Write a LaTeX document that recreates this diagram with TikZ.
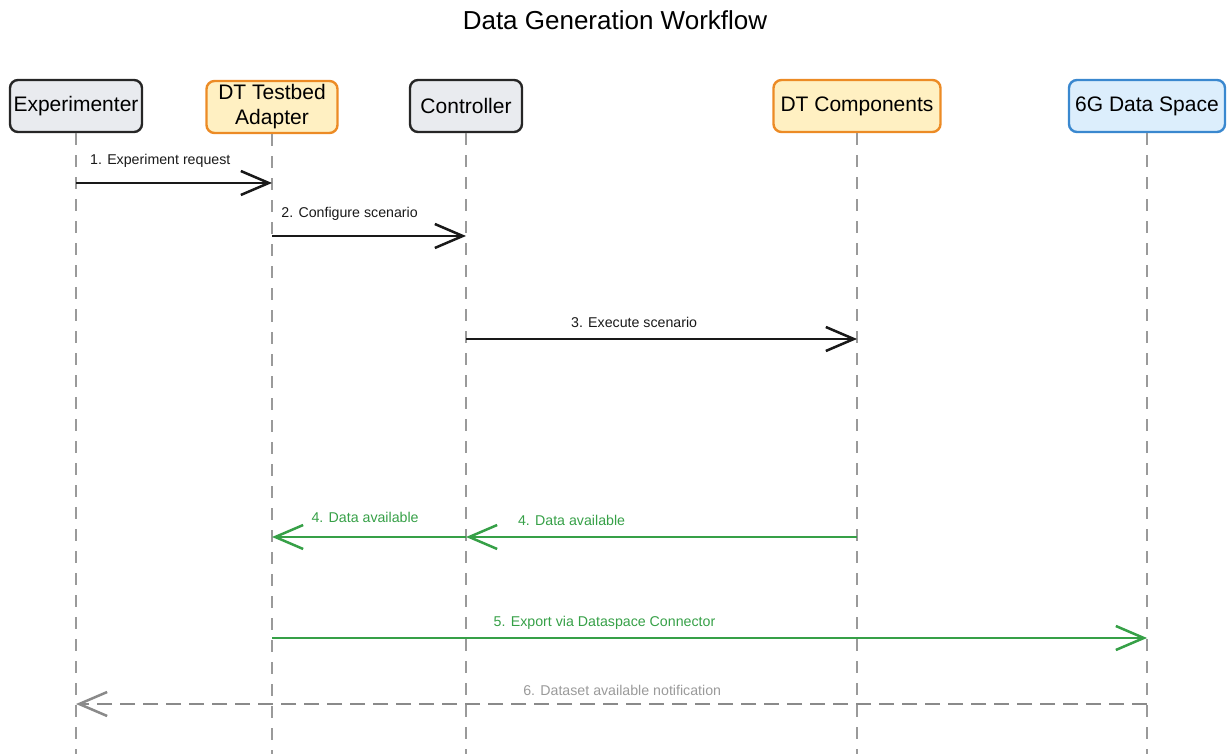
\documentclass[tikz,border=0pt]{standalone}
\usepackage{fontspec}
\setmainfont{Liberation Sans}
\usetikzlibrary{arrows.meta}
\definecolor{actorgray}{HTML}{E9EBEF}
\definecolor{dtfill}{HTML}{FFF0C2}
\definecolor{dtdraw}{HTML}{EC8B25}
\definecolor{dsfill}{HTML}{DCEEFC}
\definecolor{dsdraw}{HTML}{3A88CF}
\definecolor{msggreen}{HTML}{36A047}
\definecolor{lifegray}{HTML}{9A9A9A}
\definecolor{notegray}{HTML}{8A8A8A}

\begin{document}
\begin{tikzpicture}[x=0.5pt,y=-0.5pt]
        \tikzset{
    actor/.style={draw=black!85, fill=actorgray, line width=1.2pt, rounded corners=4pt,
        minimum height=26pt, inner sep=1pt, align=center,
        font=\fontsize{10.5}{12.5}\selectfont},
    dtactor/.style={actor, draw=dtdraw, fill=dtfill},
    dsactor/.style={actor, draw=dsdraw, fill=dsfill},
    lifeline/.style={draw=lifegray, line width=0.7pt, dash pattern=on 6pt off 5pt},
    msg/.style={line width=1.25pt, -{Straight Barb[length=14pt,width=12pt]}},
    msglabel/.style={inner sep=0pt, font=\fontsize{7.1}{8}\selectfont},
        }
        \useasboundingbox (0,0) rectangle (1228,754);

        \node[font=\fontsize{13}{15}\selectfont] (title) at (615,20) {Data Generation Workflow};

        % The participants along the top.
        \node[actor, minimum width=66pt]    (exp)  at (76,106)   {Experimenter};
        \node[dtactor, minimum width=65.5pt] (ada) at (272,107)  {DT Testbed\\Adapter};
        \node[actor, minimum width=56pt]    (ctl)  at (466,106)  {Controller};
        \node[dtactor, minimum width=83.5pt] (dtc) at (857,106)  {DT Components};
        \node[dsactor, minimum width=78pt]  (gds)  at (1147,106) {6G Data Space};

        % Heights of the messages.
        \coordinate (m1) at (0,183);
        \coordinate (m2) at (0,236);
        \coordinate (m3) at (0,339);
        \coordinate (m4) at (0,537);
        \coordinate (m5) at (0,638);
        \coordinate (m6) at (0,704);
        \coordinate (bot) at (0,754);

        % Draw the lifelines first.
        \foreach \p in {exp,ada,ctl,dtc,gds}
          \draw[lifeline] (\p.south) -- (\p.south |- bot);

        % Then the messages on top of them.
        \draw[msg, black!90] (exp.south |- m1) -- (ada.south |- m1)
          node[msglabel, pos=0.43, above=7pt] {1. Experiment request};
        \draw[msg, black!90] (ada.south |- m2) -- (ctl.south |- m2)
          node[msglabel, pos=0.40, above=7pt] {2. Configure scenario};
        \draw[msg, black!90] (ctl.south |- m3) -- (dtc.south |- m3)
          node[msglabel, pos=0.43, above=5pt] {3. Execute scenario};
        \draw[msg, msggreen] (ctl.south |- m4) -- (ada.south |- m4)
          node[msglabel, pos=0.52, above=6.5pt] {4. Data available};
        \draw[msg, msggreen] (dtc.south |- m4) -- (ctl.south |- m4)
          node[msglabel, pos=0.73, above=5pt] {4. Data available};
        \draw[msg, msggreen] (ada.south |- m5) -- (gds.south |- m5)
          node[msglabel, pos=0.38, above=3.5pt] {5. Export via Dataspace Connector};
        \draw[msg, notegray, dash pattern=on 7.5pt off 4pt] (gds.south |- m6) -- (exp.south |- m6)
          node[msglabel, text=lifegray, pos=0.49, above=3.5pt] {6. Dataset available notification};
      \end{tikzpicture}
\end{document}
